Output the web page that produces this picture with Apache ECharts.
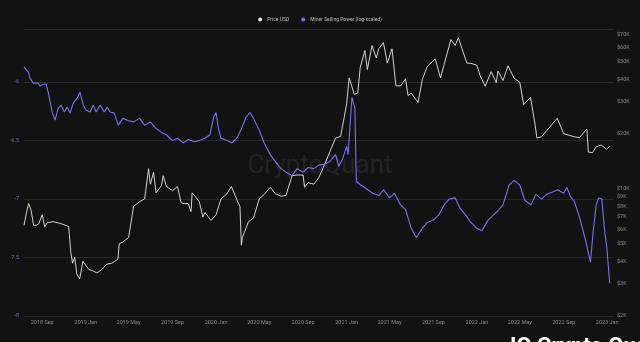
<!DOCTYPE html>
<html><head><meta charset="utf-8">
<script src="https://cdn.jsdelivr.net/npm/echarts@6/dist/echarts.min.js"></script>
<style>html,body{margin:0;padding:0;background:#121212;}#c{width:640px;height:342px;}</style>
</head><body><div id="c"></div>
<script>
const priceDates = ['2018-07-12','2018-07-19','2018-07-25','2018-08-01','2018-08-08','2018-08-15','2018-08-22','2018-09-01','2018-09-08','2018-09-15','2018-10-01','2018-10-15','2018-11-01','2018-11-14','2018-11-16','2018-11-20','2018-11-25','2018-12-01','2018-12-07','2018-12-15','2018-12-24','2019-01-01','2019-01-10','2019-01-20','2019-02-01','2019-02-15','2019-03-01','2019-03-15','2019-04-01','2019-04-05','2019-04-15','2019-05-01','2019-05-15','2019-06-01','2019-06-15','2019-06-26','2019-07-01','2019-07-10','2019-07-17','2019-08-01','2019-08-06','2019-08-15','2019-09-01','2019-09-15','2019-09-25','2019-10-01','2019-10-15','2019-10-23','2019-10-26','2019-11-01','2019-11-15','2019-11-25','2019-12-01','2019-12-18','2020-01-01','2020-01-15','2020-02-01','2020-02-13','2020-03-01','2020-03-08','2020-03-12','2020-03-15','2020-04-01','2020-04-15','2020-05-01','2020-05-15','2020-06-01','2020-06-15','2020-07-01','2020-07-15','2020-08-01','2020-08-15','2020-09-01','2020-09-05','2020-09-15','2020-10-01','2020-10-15','2020-11-01','2020-11-15','2020-12-01','2020-12-15','2020-12-25','2021-01-01','2021-01-08','2021-01-15','2021-01-22','2021-02-01','2021-02-08','2021-02-21','2021-02-28','2021-03-13','2021-03-25','2021-04-01','2021-04-14','2021-04-25','2021-05-08','2021-05-19','2021-06-01','2021-06-15','2021-06-22','2021-07-01','2021-07-20','2021-08-01','2021-08-15','2021-09-06','2021-09-21','2021-10-01','2021-10-20','2021-11-01','2021-11-10','2021-11-20','2021-12-04','2021-12-15','2022-01-01','2022-01-10','2022-01-24','2022-02-10','2022-02-24','2022-03-01','2022-03-15','2022-03-29','2022-04-15','2022-05-01','2022-05-12','2022-05-31','2022-06-13','2022-06-18','2022-07-01','2022-07-15','2022-08-14','2022-09-01','2022-09-15','2022-10-01','2022-10-15','2022-11-05','2022-11-09','2022-11-21','2022-12-01','2022-12-15','2022-12-30','2023-01-08'];
const priceUsd = [6300,7400,8300,7600,6300,6300,6400,7200,6200,6500,6600,6500,6350,6200,5600,4500,3900,4200,3400,3200,4000,3800,3600,3550,3450,3600,3850,3900,4100,5000,5100,5400,8000,8500,8800,12900,10600,12300,9500,10400,11800,10300,9750,10300,8400,8300,8300,7500,9500,9200,8500,7000,7400,6700,7200,8800,9400,10300,8550,8000,4900,5400,6600,6900,8800,9300,10200,9400,9100,9200,11800,11900,11900,10200,10800,10600,11500,13700,16000,19000,19400,24600,29300,40700,36800,33000,33500,46400,57500,45200,61200,52300,58800,63500,49000,58800,36800,36700,40200,32500,33500,29800,39900,47000,51800,40700,48100,66000,61300,67500,59000,49000,48900,47700,41800,36600,44000,38300,44400,39300,47400,40500,38500,29000,31800,22500,19000,19300,20800,24400,20100,19700,19300,19100,21300,15900,15800,17000,17400,16500,17100];

const mspDates = ['2018-07-12','2018-07-15','2018-07-24','2018-07-29','2018-08-07','2018-08-12','2018-08-21','2018-08-26','2018-09-04','2018-09-12','2018-09-18','2018-09-29','2018-10-07','2018-10-16','2018-10-24','2018-11-02','2018-11-10','2018-11-18','2018-11-27','2018-12-08','2018-12-16','2018-12-25','2019-01-02','2019-01-13','2019-01-22','2019-01-30','2019-02-10','2019-02-22','2019-03-02','2019-03-10','2019-03-22','2019-04-02','2019-04-15','2019-05-01','2019-05-15','2019-06-01','2019-06-15','2019-07-01','2019-07-15','2019-08-01','2019-08-15','2019-09-01','2019-09-15','2019-10-01','2019-10-15','2019-11-01','2019-11-15','2019-12-01','2019-12-15','2019-12-25','2020-01-01','2020-01-08','2020-01-15','2020-02-01','2020-02-15','2020-03-01','2020-03-12','2020-03-25','2020-04-05','2020-04-15','2020-05-01','2020-05-15','2020-06-01','2020-06-15','2020-07-01','2020-07-15','2020-08-01','2020-08-15','2020-09-01','2020-09-15','2020-10-01','2020-10-15','2020-11-01','2020-11-15','2020-12-01','2020-12-10','2020-12-20','2021-01-01','2021-01-05','2021-01-12','2021-01-16','2021-01-24','2021-01-28','2021-02-10','2021-03-01','2021-03-15','2021-04-01','2021-04-15','2021-05-01','2021-05-15','2021-06-01','2021-06-15','2021-07-01','2021-07-15','2021-08-01','2021-08-15','2021-09-01','2021-09-15','2021-10-01','2021-10-15','2021-11-01','2021-11-15','2021-12-01','2021-12-15','2022-01-01','2022-01-15','2022-02-01','2022-02-15','2022-03-01','2022-03-15','2022-04-01','2022-04-15','2022-05-01','2022-05-15','2022-06-01','2022-06-15','2022-07-01','2022-07-15','2022-08-01','2022-08-15','2022-09-01','2022-09-10','2022-09-20','2022-10-01','2022-10-15','2022-11-01','2022-11-15','2022-11-22','2022-12-01','2022-12-08','2022-12-17','2022-12-24','2022-12-31','2023-01-08'];
const minerSellingPower = [-5.87,-5.88,-5.915,-5.966,-6.009,-6.026,-6.009,-6.034,-6.017,-6.017,-6.09,-6.256,-6.325,-6.222,-6.197,-6.256,-6.214,-6.265,-6.18,-6.137,-6.085,-6.197,-6.239,-6.256,-6.197,-6.256,-6.197,-6.256,-6.214,-6.256,-6.265,-6.368,-6.31,-6.33,-6.34,-6.31,-6.37,-6.34,-6.39,-6.43,-6.45,-6.50,-6.48,-6.52,-6.49,-6.51,-6.50,-6.48,-6.45,-6.30,-6.26,-6.40,-6.48,-6.50,-6.52,-6.47,-6.40,-6.30,-6.26,-6.31,-6.41,-6.52,-6.62,-6.68,-6.74,-6.77,-6.80,-6.74,-6.77,-6.73,-6.74,-6.71,-6.70,-6.68,-6.62,-6.72,-6.66,-6.55,-6.62,-6.30,-6.13,-6.22,-6.85,-6.88,-6.92,-6.95,-6.97,-6.92,-6.99,-6.95,-7.05,-7.09,-7.25,-7.33,-7.25,-7.20,-7.18,-7.14,-7.05,-7.00,-6.99,-7.08,-7.14,-7.20,-7.25,-7.27,-7.18,-7.14,-7.10,-7.05,-6.88,-6.84,-6.88,-7.01,-7.05,-6.96,-7.00,-6.96,-6.94,-6.92,-6.95,-6.90,-6.98,-7.02,-7.15,-7.35,-7.54,-7.30,-7.05,-6.99,-7.00,-7.25,-7.42,-7.72];

const xTickDates = ['2018-09-01','2019-01-01','2019-05-01','2019-09-01','2020-01-01','2020-05-01','2020-09-01','2021-01-01','2021-05-01','2021-09-01','2022-01-01','2022-05-01','2022-09-01','2023-01-01'];
const priceTicks = [2000,3000,4000,5000,6000,7000,8000,9000,10000,20000,30000,40000,50000,60000,70000];
const mspTicks = [-8,-7.5,-7,-6.5,-6];
const monthNames = ['Jan','Feb','Mar','Apr','May','Jun','Jul','Aug','Sep','Oct','Nov','Dec'];

const ts = s => { const p = s.split('-'); return Date.UTC(+p[0], +p[1]-1, +p[2]); };

const chart = echarts.init(document.getElementById('c'), null, {renderer:'canvas'});
chart.setOption({
  backgroundColor: '#121212',
  animation: false,
  textStyle: {fontFamily: 'Roboto, "Noto Sans", sans-serif'},
  legend: {
    top: 12, left: 'center', icon: 'circle', itemWidth: 4, itemHeight: 4, itemGap: 12,
    textStyle: {color: '#bbbbbb', fontSize: 5},
    data: [{name:'Price USD', itemStyle:{color:'#e6e6e6'}}, {name:'Miner Selling Power (log-scaled)', itemStyle:{color:'#7a70f0'}}]
  },
  grid: {left: 24, right: 26, top: 29.5, bottom: 26},
  xAxis: {
    type: 'value', min: ts('2018-07-12'), max: ts('2023-01-20'),
    axisLine: {show: false}, axisTick: {show: false}, splitLine: {show: false},
    axisLabel: {
      customValues: xTickDates.map(ts), color: '#8a8a8a', fontSize: 5.5, margin: 4,
      formatter: v => { const d = new Date(v); return d.getUTCFullYear() + ' ' + monthNames[d.getUTCMonth()]; }
    }
  },
  yAxis: [
    {
      type: 'value', position: 'left', min: -8, max: -5.55, interval: 0.5,
      axisLine: {show: false}, axisTick: {show: false},
      splitLine: {show: true, lineStyle: {color: '#262626', width: 1}},
      axisLabel: {customValues: mspTicks, color: '#6c6cae', fontSize: 5.5, margin: 5,
        formatter: v => String(v)}
    },
    {
      type: 'log', logBase: 10, position: 'right', min: 2000, max: 75000,
      axisLine: {show: false}, axisTick: {show: false}, splitLine: {show: false},
      axisLabel: {customValues: priceTicks, color: '#8a8a8a', fontSize: 5.5, margin: 3,
        formatter: v => '$' + Math.round(v/1000) + 'K'}
    }
  ],
  graphic: [
    {type: 'text', left: 'center', top: 153, z: 0, silent: true,
     style: {text: 'CryptoQuant', fill: 'rgba(255,255,255,0.07)', fontSize: 26, fontFamily: 'Roboto, sans-serif'}},
    {type: 'text', left: 510, top: 336, z: 100, silent: true,
     style: {text: 'IQ Crypto Quant', fill: '#ffffff', fontSize: 22, fontWeight: 'bold', fontFamily: 'Roboto, sans-serif'}}
  ],
  series: [
    {
      name: 'Price USD', type: 'line', yAxisIndex: 1, showSymbol: false, z: 2,
      data: priceDates.map((d, i) => [ts(d), priceUsd[i]]),
      lineStyle: {color: '#e6e6e6', width: 0.9}, itemStyle: {color: '#e6e6e6'}
    },
    {
      name: 'Miner Selling Power (log-scaled)', type: 'line', yAxisIndex: 0, showSymbol: false, z: 3,
      data: mspDates.map((d, i) => [ts(d), minerSellingPower[i]]),
      lineStyle: {color: '#7a70f0', width: 1.1}, itemStyle: {color: '#7a70f0'}
    }
  ]
});
</script></body></html>
